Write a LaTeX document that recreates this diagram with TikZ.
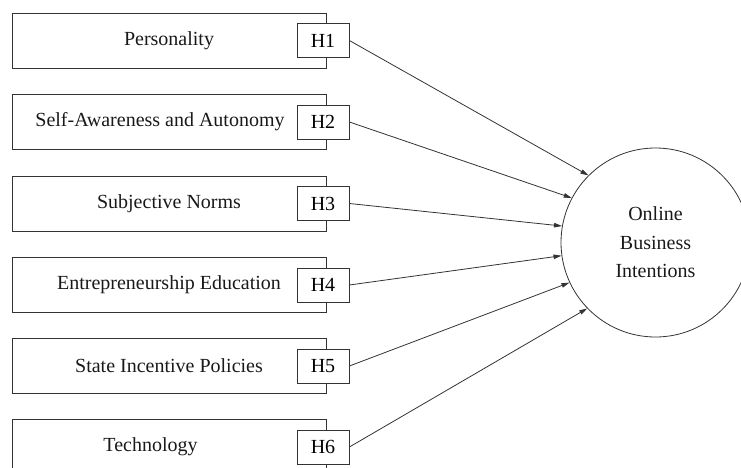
\documentclass[tikz,border=0pt]{standalone}
\usepackage{fontspec}
\setmainfont{Liberation Serif}
\usetikzlibrary{arrows.meta}
\begin{document}
\begin{tikzpicture}[x=1pt,y=-1pt,
  line width=0.8pt,
  font=\fontsize{20}{28.5}\selectfont,
  factor/.style={draw=black!80, minimum width=314pt, minimum height=55pt, inner sep=0pt},
  hyp/.style={draw=black!80, fill=white, minimum width=52pt, minimum height=34pt, inner sep=0pt},
  lbl/.style={inner sep=0pt, text=black!90},
  link/.style={draw=black!80, -{Triangle[length=8pt,width=4.5pt]}}]
\useasboundingbox (0,0) rectangle (741,468);
\clip (0,0) rectangle (741,468);

% factor boxes
\node[factor] (f1) at (169,40.5) {};
\node[factor] (f2) at (169,122) {};
\node[factor] (f3) at (169,203.5) {};
\node[factor] (f4) at (169,285) {};
\node[factor] (f5) at (169,366) {};
\node[factor] (f6) at (169,447) {};

% factor names
\node[lbl] (t1) at (169,40.5) {Personality};
\node[lbl] (t2) at (160,122) {Self-Awareness and Autonomy};
\node[lbl] (t3) at (169,203.5) {Subjective Norms};
\node[lbl] (t4) at (169,285) {Entrepreneurship Education};
\node[lbl] (t5) at (169,366) {State Incentive Policies};
\node[lbl] (t6) at (150.5,447) {Technology};

% hypothesis tags
\node[hyp] (h1) at (323,40.5) {H1};
\node[hyp] (h2) at (323,122) {H2};
\node[hyp] (h3) at (323,203.5) {H3};
\node[hyp] (h4) at (323,285) {H4};
\node[hyp] (h5) at (323,366) {H5};
\node[hyp] (h6) at (323,447) {H6};

% outcome
\node[draw=black!80, circle, minimum size=189pt, inner sep=0pt, align=center, text=black!90]
  (obi) at (655.5,242.5) {Online\\Business\\Intentions};

% hypothesised paths
\draw[link] (h1.east) -- (obi.135.4);
\draw[link] (h2.east) -- (obi.152.3);
\draw[link] (h3.east) -- (obi.170.1);
\draw[link] (h4.east) -- (obi.188);
\draw[link] (h5.east) -- (obi.205.9);
\draw[link] (h6.east) -- (obi.224.6);
\end{tikzpicture}
\end{document}
